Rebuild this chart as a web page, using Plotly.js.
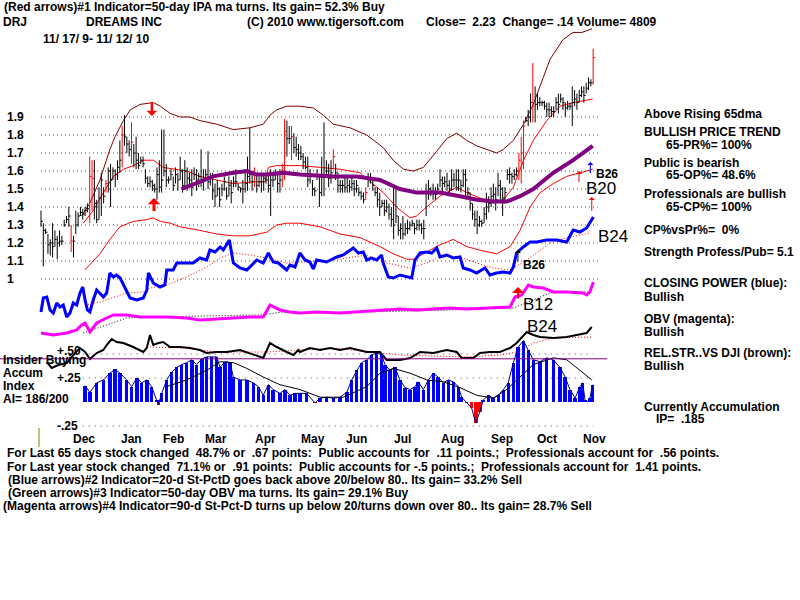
<!DOCTYPE html>
<html><head><meta charset="utf-8">
<script src="https://cdn.plot.ly/plotly-3.0.1.min.js"></script>
<style>html,body{margin:0;padding:0;background:#fff}</style>
</head><body><div id="chart" style="width:800px;height:600px"></div>
<script>
// ---------------- DATA ----------------
const high = [1.38,1.31,1.28,1.25,1.22,1.31,1.27,1.24,1.27,1.24,
1.33,1.35,1.40,1.30,1.24,1.38,1.37,1.40,1.39,1.40,
1.42,1.68,1.66,1.66,1.44,1.51,1.59,1.51,1.55,1.62,
1.64,1.62,1.61,1.66,1.77,1.85,1.91,1.79,1.77,1.87,
1.75,1.79,1.70,1.68,1.68,1.61,1.57,1.57,1.55,1.53,
1.62,1.66,1.83,1.83,1.64,1.57,1.61,1.57,1.62,1.59,
1.68,1.61,1.66,1.62,1.59,1.61,1.62,1.61,1.59,1.72,
1.61,1.61,1.71,1.59,1.59,1.53,1.55,1.51,1.53,1.57,
1.51,1.57,1.55,1.57,1.61,1.53,1.51,1.55,1.59,1.68,
1.84,1.59,1.62,1.59,1.57,1.59,1.59,1.57,1.59,1.61,
1.59,1.61,1.59,1.61,1.64,1.89,1.88,1.85,1.85,1.81,
1.79,1.75,1.74,1.70,1.68,1.68,1.61,1.55,1.51,1.61,
1.57,1.68,1.87,1.66,1.64,1.66,1.72,1.64,1.59,1.55,
1.55,1.57,1.57,1.55,1.57,1.55,1.55,1.51,1.49,1.48,
1.51,1.59,1.59,1.55,1.51,1.51,1.48,1.44,1.44,1.44,
1.42,1.40,1.51,1.51,1.35,1.31,1.35,1.31,1.33,1.32,
1.33,1.31,1.33,1.33,1.31,1.33,1.53,1.55,1.51,1.53,
1.51,1.53,1.61,1.57,1.57,1.59,1.55,1.61,1.59,1.61,
1.61,1.55,1.61,1.61,1.51,1.48,1.42,1.38,1.38,1.35,
1.33,1.40,1.48,1.46,1.51,1.53,1.51,1.59,1.55,1.51,
1.51,1.61,1.62,1.59,1.61,1.62,1.70,1.79,1.88,1.90,
1.94,2.03,2.20,2.07,2.03,2.01,1.99,1.99,1.98,1.98,
1.96,1.96,2.01,2.03,2.03,2.01,1.98,1.99,1.98,2.07,
2.05,2.03,2.05,2.07,2.07,2.09,2.12,2.11,2.28];
const low = [1.29,1.07,1.25,1.14,1.13,1.12,1.18,1.11,1.18,1.19,
1.29,1.31,1.29,1.15,1.12,1.25,1.29,1.35,1.33,1.35,
1.37,1.31,1.38,1.33,1.31,1.33,1.35,1.42,1.48,1.48,
1.40,1.55,1.51,1.55,1.59,1.62,1.74,1.70,1.68,1.64,
1.62,1.61,1.61,1.64,1.62,1.53,1.51,1.51,1.49,1.48,
1.44,1.48,1.48,1.57,1.51,1.53,1.55,1.49,1.53,1.49,
1.55,1.48,1.51,1.49,1.51,1.46,1.55,1.49,1.51,1.51,
1.49,1.55,1.50,1.52,1.44,1.40,1.46,1.40,1.46,1.49,
1.44,1.46,1.42,1.51,1.51,1.49,1.48,1.42,1.48,1.49,
1.53,1.49,1.51,1.48,1.51,1.48,1.49,1.53,1.48,1.35,
1.51,1.55,1.48,1.48,1.51,1.55,1.68,1.75,1.66,1.70,
1.68,1.66,1.66,1.61,1.61,1.51,1.53,1.46,1.46,1.55,
1.40,1.46,1.46,1.57,1.51,1.53,1.61,1.55,1.48,1.48,
1.48,1.48,1.48,1.48,1.49,1.46,1.48,1.46,1.44,1.42,
1.44,1.51,1.53,1.49,1.46,1.40,1.35,1.40,1.35,1.37,
1.33,1.29,1.22,1.31,1.24,1.22,1.22,1.24,1.25,1.27,
1.29,1.25,1.27,1.27,1.25,1.22,1.35,1.44,1.46,1.44,
1.44,1.48,1.51,1.48,1.51,1.49,1.46,1.49,1.51,1.49,
1.49,1.48,1.51,1.46,1.46,1.38,1.33,1.29,1.25,1.29,
1.29,1.31,1.33,1.37,1.40,1.42,1.38,1.46,1.44,1.35,
1.42,1.55,1.53,1.53,1.55,1.57,1.55,1.53,1.61,1.87,
1.85,1.87,1.87,1.87,1.94,1.96,1.96,1.94,1.90,1.90,
1.90,1.90,1.94,1.92,1.98,1.94,1.90,1.94,1.94,1.85,
1.96,1.94,1.98,2.01,1.98,2.03,2.05,2.07,2.08];
const close = [1.32,1.27,1.26,1.19,1.20,1.18,1.22,1.20,1.21,1.21,
1.30,1.33,1.35,1.21,1.21,1.30,1.35,1.37,1.36,1.38,
1.39,1.57,1.56,1.42,1.33,1.45,1.55,1.46,1.53,1.60,
1.55,1.60,1.58,1.62,1.66,1.80,1.79,1.75,1.72,1.76,
1.70,1.66,1.63,1.66,1.64,1.56,1.53,1.54,1.52,1.50,
1.58,1.51,1.55,1.60,1.55,1.55,1.58,1.52,1.58,1.55,
1.60,1.52,1.60,1.56,1.55,1.51,1.58,1.55,1.57,1.54,
1.55,1.58,1.54,1.56,1.49,1.46,1.50,1.44,1.50,1.54,
1.46,1.52,1.48,1.54,1.54,1.51,1.50,1.50,1.53,1.57,
1.58,1.54,1.58,1.52,1.54,1.54,1.56,1.55,1.52,1.55,
1.55,1.58,1.53,1.55,1.60,1.82,1.78,1.78,1.79,1.73,
1.72,1.70,1.68,1.65,1.62,1.55,1.57,1.50,1.49,1.58,
1.48,1.57,1.58,1.60,1.56,1.59,1.68,1.59,1.52,1.52,
1.52,1.51,1.52,1.51,1.53,1.50,1.52,1.48,1.46,1.44,
1.48,1.56,1.56,1.52,1.48,1.44,1.40,1.42,1.38,1.40,
1.36,1.33,1.30,1.35,1.27,1.28,1.25,1.28,1.28,1.30,
1.31,1.28,1.30,1.30,1.28,1.28,1.48,1.50,1.49,1.48,
1.47,1.50,1.55,1.53,1.54,1.52,1.50,1.55,1.55,1.55,
1.55,1.52,1.58,1.55,1.48,1.42,1.36,1.33,1.30,1.32,
1.31,1.36,1.40,1.42,1.46,1.47,1.44,1.52,1.50,1.45,
1.48,1.58,1.58,1.57,1.58,1.60,1.66,1.70,1.85,1.88,
1.90,1.98,1.96,1.97,1.98,1.98,1.98,1.96,1.94,1.94,
1.93,1.93,1.98,1.97,2.00,1.98,1.95,1.96,1.96,1.98,
2.00,1.98,2.02,2.04,2.02,2.06,2.09,2.09,2.23];
const redBars = [13,21,22,28,35,39,92,104,105,108,126,140,206,207,208,212,238];

const upperX = [17.5,21,25.4,29.7,31.9,35.5,38.5,42.7,48.4,51.4,55.7,60,64.3,68.5,75.7,82.9,90,95.8,98.7,101.6,105.9,111.6,117.4,121.7,126,133.2,140.4,147.5,151.8,156.2,160.5,164.8,170.6,174.9,179.2,183.5,187.8,192.1,196.4,199.3,203.6,208,212.2,216.5,219.4,225,229.3,233.2,237.5];
const upperY = [1.35,1.42,1.55,1.72,1.79,1.88,1.94,1.97,1.98,1.96,1.92,1.90,1.90,1.88,1.86,1.83,1.84,1.86,1.91,1.94,1.96,1.96,1.95,1.91,1.86,1.84,1.80,1.73,1.66,1.61,1.60,1.62,1.71,1.78,1.81,1.77,1.74,1.72,1.70,1.72,1.77,1.86,1.97,2.12,2.22,2.33,2.37,2.37,2.39];
const maX = [18.2,22.5,26.9,31.2,35.5,39.9,44.2,48.4,52.7,57,62.8,68.5,75.7,82.9,91.5,96.6,98,101.6,107.3,111.6,120.3,128.9,137.5,143.2,147.5,153.3,159,161.9,166.2,172,179.2,183.5,189.2,195,199.3,203.6,208,212.2,218,223.7,229.5,237.8];
const maY = [1.31,1.38,1.48,1.57,1.61,1.63,1.66,1.66,1.62,1.61,1.60,1.57,1.55,1.53,1.54,1.54,1.62,1.63,1.63,1.63,1.62,1.61,1.59,1.53,1.48,1.40,1.34,1.35,1.40,1.46,1.51,1.48,1.45,1.43,1.44,1.51,1.66,1.77,1.88,1.96,1.98,2.00];
const lowerX = [18.9,25.4,29.7,34,39.8,45.6,48.4,51.4,55.7,60,68.5,75.7,82.9,90,97.3,101.6,105.9,111.6,120.3,128.9,137.5,146.1,151.8,157.6,160.5,166.2,172,177.7,183.5,189.2,196.4,202.2,206.5,210.8,215.1,220.8,226.6,232.3,237.8];
const lowerY = [1.05,1.14,1.22,1.29,1.32,1.33,1.34,1.32,1.31,1.29,1.27,1.25,1.24,1.24,1.26,1.30,1.31,1.31,1.29,1.25,1.23,1.18,1.14,1.11,1.11,1.15,1.19,1.22,1.18,1.16,1.14,1.18,1.27,1.40,1.48,1.53,1.57,1.59,1.61];
const ma65X = [60.6,68.5,74.3,82.9,88.7,93,97.3,104.4,111.6,126,136.1,146.1,154.7,161.9,172,180.6,187.8,195,200.7,206.5,212.2,220.8,229.4,237.8];
const ma65Y = [1.50,1.54,1.57,1.59,1.60,1.58,1.58,1.59,1.58,1.57,1.57,1.55,1.50,1.48,1.48,1.46,1.44,1.43,1.43,1.46,1.50,1.59,1.66,1.74];

const cpX = [0,1,2.5,3.9,5.3,6.8,8.2,9.6,11.1,12.5,13.9,15.4,16.8,18,19,20,21.1,22.5,24,25.4,26.9,28.3,29.7,31.2,32.6,34.1,36.9,38.4,41.3,44.1,45.6,46.3,48.4,51.3,53.4,54.2,57,58.5,62.8,65.6,68.5,71.4,72.8,75,77.2,78.6,81.2,82.9,85.8,88.7,93,95.8,98,100.1,102.3,104.4,105.9,107.3,109.5,111.6,113.8,115.9,117.4,118.8,123.1,127.5,130.3,134.6,136.8,138.9,140.4,142.5,144.7,146.8,147.5,149.7,151.9,154.7,157.6,159.8,161.2,163.4,166.3,168.4,170.6,172,174.9,177.7,180.6,182,184.9,187.8,189.9,191.4,193.5,196.4,199.3,202.2,203.6,205,207.9,210.8,213.7,218,222.3,226.6,229.4,232.3,235.2,237.4,238.1];
const cpV = [8,22,23,10,7,17,13,15,3,7,17,15,27,33,20,10,8,20,30,27,23,27,47,43,45,42,30,22,20,22,30,47,37,33,35,50,50,57,57,57,62,60,70,68,73,70,80,57,52,50,60,57,67,58,57,53,50,55,53,67,60,58,51,60,58,63,65,72,67,68,60,62,60,65,57,43,42,45,43,42,60,67,68,67,72,63,65,62,63,52,50,47,50,52,45,47,48,47,53,67,73,78,78,80,80,78,90,88,92,100,103];
const cpMaX = [19,25.4,36.9,44.1,47,54.2,62.8,71.4,77.2,82.9,90.1,97.3,105.9,111.6,126,140.4,149,159.1,166.3,173.4,180.6,187.8,194.9,202.2,209.4,219.4,226.6,236.6];
const cpMaV = [15,18,27,28,32,35,43,53,62,67,65,62,57,58,60,65,57,52,57,65,63,57,52,50,60,77,82,87];

const obvX = [0,5.3,11.1,15.4,17.5,19,21.1,24,28.3,31.2,36.9,42.7,48.4,54.2,62.8,68.5,75.7,82.9,90.1,95.8,98.7,103,107.3,111.6,118.8,128.9,134.6,140.4,149,154.7,161.9,169.1,176.3,183.5,190.6,197.8,202.2,204.3,207.2,210.1,212.2,216.5,220.8,226.6,233.7,235.2,236.6,238.1];
const obvV = [7,5,7,10,15,17,8,17,22,25,25,23,23,23,22,20,21,22,23,23,35,30,28,27,28,27,28,29,30,31,30,31,32,31,32,33,33,43,45,55,53,52,48,48,47,45,48,58];
const obvMaX = [18.2,25.4,36.9,45.6,94.4,104.4,111.6,161.9,203.6,212.2,219.4,226.6,236.6];
const obvMaV = [7,13,22,23,25,28,27,29,32,40,47,48,48];

const rsX = [2.5,4.6,7.5,11.1,14.7,16.8,19,21.1,24,26.9,28.3,30.5,32.6,35.5,39.8,44.1,45.6,47,48.4,50.6,52.7,55.6,59.9,64.2,68.5,71.4,75.7,80,85.8,91.5,95.8,98.7,101.6,105.9,108.8,110.9,111.6,115.9,120.3,124.6,128.9,133.2,140.4,146.1,149,154.7,159.1,163.4,169.1,174.9,179.2,181.3,186.3,189.2,193.5,197.8,202.2,205,209.4,212.2,215.1,220.8,226.6,230.9,235.2,237.4];
const rsV = [8,2,5,7,17,22,18,11,17,20,25,31,28,27,23,18,22,35,25,27,28,23,23,22,20,17,18,18,20,15,12,27,23,18,15,20,18,22,20,22,20,22,18,18,10,10,12,18,17,20,18,12,12,17,18,18,22,27,38,35,33,32,33,35,37,43];
const rsMaX = [47,61.3,75.7,97.3,111.6,126,154.7,183.5,197.8,205,212.2,220.8,237.8];
const rsMaV = [23,22,18,18,20,22,15,13,15,18,27,32,33];

const aiX = [19,21.1,24,26.9,29.7,31.9,34.1,36.9,39.1,41.3,43.4,45.6,47.7,49.9,50.6,52,54.2,56.3,58.5,60.6,62.8,65,67.1,69.3,71.4,73.6,75.7,77.2,79.3,81.5,82.9,85.8,88.7,91.5,93.7,95.8,98,100.1,103,105.2,107.3,109.5,111.6,114.5,118.1,120.3,123.1,126,128.9,131.8,133.9,136.1,138.2,140.4,142.5,144.7,146.8,148.3,150.4,152.6,154.7,156.9,159.1,161.2,162.6,164.8,167,169.1,171.2,173.4,175.6,177.7,179.9,181.3,183.5,185.6,187.4,189.2,190.6,192.8,194.9,197.1,199.3,201.4,203.6,205.7,207.9,210.1,212.2,215.1,218,220.8,223.7,225.9,228,230.2,232.3,233.5,234.5,235.5,236.6,237.8];
const aiV = [0.17,0.10,0.20,0.23,0.30,0.34,0.30,0.23,0.16,0.25,0.20,0.23,0.16,0.02,-0.03,0.09,0.23,0.31,0.36,0.39,0.41,0.44,0.39,0.45,0.47,0.47,0.47,0.36,0.42,0.41,0.26,0.23,0.23,0.20,0.16,0.07,0.18,0.13,0.09,0.13,0.07,0.09,0.09,0.09,-0.01,0.04,0.05,0.04,0.05,0.10,0.23,0.33,0.41,0.44,0.49,0.51,0.49,0.39,0.33,0.36,0.23,0.15,0.13,0.16,0.21,0.13,0.23,0.30,0.26,0.20,0.23,0.21,0.16,0.05,-0.01,-0.06,-0.22,-0.10,0.02,0.07,0.04,0.07,0.13,0.20,0.41,0.57,0.64,0.54,0.44,0.42,0.46,0.44,0.36,0.26,0.13,0.04,0.16,0.20,0.02,0.00,0.04,0.18];
const aiMaX = [54.2,62.8,71.4,77.2,82.9,88.7,95.8,103,111.6,120.3,130.3,140.4,146.1,151.9,159.1,166.3,173.4,180.6,187.8,194.9,200.7,206.5,212.2,220.8,226.6,232.3,237.4];
const aiMaV = [0.16,0.23,0.33,0.42,0.41,0.35,0.26,0.18,0.13,0.05,0.05,0.16,0.30,0.35,0.30,0.23,0.21,0.15,0.07,0.04,0.13,0.26,0.39,0.46,0.44,0.33,0.23];
const aiLevels = [0.50, 0.25, -0.25];
const aiLevelLabels = ['+.50', '+.25', '-.25'];
const insiderLevel = 0.45;

const priceGrid = [1,1.1,1.2,1.3,1.4,1.5,1.6,1.7,1.8,1.9];
const priceLabels = ['1','1.1','1.2','1.3','1.4','1.5','1.6','1.7','1.8','1.9'];
const months = ['Dec','Jan','Feb','Mar','Apr','May','Jun','Jul','Aug','Sep','Oct','Nov'];
const monthPos = [18.5,38.8,56.9,75.4,96.6,117.2,136.2,156,177.2,198.7,218.1,238.4];

// signal arrows: [x, tip, tail, axis, color, width]
const signals = [
  [47.8, 1.905, 1.99, 'y', '#ff0000', 2.5],
  [48.7, 1.45, 1.37, 'y', '#ff0000', 3],
  [231.9, 1.60, 1.53, 'y', '#ff0000', 1],
  [236.8, 1.65, 1.58, 'y', '#0000ff', 1],
  [237.4, 1.455, 1.37, 'y', '#ff0000', 1],
  [205.6, 70, 57, 'y2', '#000000', 1],
  [205.6, 53, 40, 'y3', '#ff0000', 2]
];

// ---------------- DRAWING ----------------
const FONT = 'Liberation Sans, Arial, sans-serif';
const idx = high.map((_, i) => i);
function barSegs(list) {
  const x = [], y = [];
  list.forEach(i => { x.push(i, i, null); y.push(low[i], high[i], null); });
  return {x, y};
}
function tickSegs(list) {
  const x = [], y = [];
  list.forEach(i => { x.push(i, i + 0.8, null); y.push(close[i], close[i], null); });
  return {x, y};
}
const blackList = idx.filter(i => !redBars.includes(i));
const bb = barSegs(blackList), rb = barSegs(redBars);
const bt = tickSegs(blackList), rt = tickSegs(redBars);

const gx = [], gy = [];
priceGrid.forEach(g => { gx.push(0, 240, null); gy.push(g, g, null); });

const traces = [];
traces.push({x: gx, y: gy, mode: 'lines', line: {color: '#008000', width: 1, dash: '1px,3px'}});
traces.push({x: upperX, y: upperY, mode: 'lines', line: {color: '#800000', width: 1}});
traces.push({x: lowerX, y: lowerY, mode: 'lines', line: {color: '#ff0000', width: 1}});
traces.push({x: maX, y: maY, mode: 'lines', line: {color: '#ff0000', width: 1}});
traces.push({x: bb.x, y: bb.y, mode: 'lines', line: {color: '#000000', width: 1}});
traces.push({x: bt.x, y: bt.y, mode: 'lines', line: {color: '#000000', width: 1}});
traces.push({x: rb.x, y: rb.y, mode: 'lines', line: {color: '#ff0000', width: 1}});
traces.push({x: rt.x, y: rt.y, mode: 'lines', line: {color: '#ff0000', width: 1}});
traces.push({x: ma65X, y: ma65Y, mode: 'lines', line: {color: '#800080', width: 4}});
// closing power
traces.push({x: cpMaX, y: cpMaV, yaxis: 'y2', mode: 'lines', line: {color: '#ff0000', width: 1, dash: '1px,2px'}});
traces.push({x: cpX, y: cpV, yaxis: 'y2', mode: 'lines', line: {color: '#0000ff', width: 3}});
// OBV
traces.push({x: obvMaX, y: obvMaV, yaxis: 'y3', mode: 'lines', line: {color: '#000000', width: 1, dash: '1px,2px'}});
traces.push({x: obvX, y: obvV, yaxis: 'y3', mode: 'lines', line: {color: '#ff00ff', width: 3}});
// Rel strength
traces.push({x: rsMaX, y: rsMaV, yaxis: 'y4', mode: 'lines', line: {color: '#ff0000', width: 1, dash: '1px,2px'}});
traces.push({x: rsX, y: rsV, yaxis: 'y4', mode: 'lines', line: {color: '#000000', width: 2}});
// AI
traces.push({x: [18, 238], y: [aiLevels[0], aiLevels[0]], yaxis: 'y5', mode: 'lines', line: {color: '#c000c0', width: 1, dash: '1px,5px'}});
traces.push({x: [18, 238], y: [aiLevels[1], aiLevels[1]], yaxis: 'y5', mode: 'lines', line: {color: '#606060', width: 1, dash: '1px,5px'}});
traces.push({x: [18, 238], y: [aiLevels[2], aiLevels[2]], yaxis: 'y5', mode: 'lines', line: {color: '#c000c0', width: 1, dash: '1px,5px'}});
traces.push({x: aiX, y: aiV, yaxis: 'y5', type: 'bar', width: 1.5,
  marker: {color: aiV.map(v => v < 0 ? '#ff0000' : '#0000ff'), line: {width: 0}}});
traces.push({x: aiX, y: aiV, yaxis: 'y5', mode: 'lines', line: {color: '#000080', width: 1}});
traces.push({x: aiMaX, y: aiMaV, yaxis: 'y5', mode: 'lines', line: {color: '#000000', width: 1}});
traces.push({x: [-17.67, 244], y: [insiderLevel, insiderLevel], yaxis: 'y5', mode: 'lines', line: {color: '#800080', width: 1}});

traces.forEach(t => { if (!t.type) t.type = 'scatter'; t.hoverinfo = 'skip'; t.showlegend = false; t.cliponaxis = false; });

// ---------------- TEXT ----------------
const ann = [];
function sp(t) { return t.replace(/  /g, ' \u00a0'); }
function lab(px, py, text, size, bold, extra) {
  const a = {xref: 'paper', yref: 'paper', x: px / 800, y: 1 - py / 600, xanchor: 'left', yanchor: 'middle',
    text: bold === false ? sp(text) : '<b>' + sp(text) + '</b>', showarrow: false, borderpad: 0,
    font: {family: FONT, size: size, color: '#000000'}};
  return Object.assign(a, extra || {});
}
const T = 12;
ann.push(lab(3, 7, '(Red arrows)#1 Indicator=50-day IPA ma turns. Its gain= 52.3% Buy', T));
ann.push(lab(2, 22, 'DRJ', T));
ann.push(lab(85, 22, 'DREAMS INC', T));
ann.push(lab(246, 22, '(C) 2010 www.tigersoft.com', T));
ann.push(lab(425, 22, 'Close=  2.23  Change= .14 Volume= 4809', T));
ann.push(lab(42, 39, '11/ 17/ 9- 11/ 12/ 10', T));

const right = [
  [643,114,'Above Rising 65dma'],[643,132,'BULLISH PRICE TREND'],[665,145,'65-PR%= 100%'],
  [643,163,'Public is bearish'],[665,175,'65-OP%= 48.6%'],[643,194,'Professionals are bullish'],
  [665,207,'65-CP%= 100%'],[643,230,'CP%vsPr%=  0%'],[643,252,'Strength Profess/Pub= 5.1'],
  [643,283,'CLOSING POWER (blue):'],[643,297,'Bullish'],[643,319,'OBV (magenta):'],[643,332,'Bullish'],
  [643,353,'REL.STR..VS DJI (brown):'],[643,366,'Bullish'],[643,407,'Currently Accumulation'],[655,419,'IP=  .185']
];
right.forEach(r => ann.push(lab(r[0], r[1], r[2], T)));

ann.push(lab(2, 360, 'Insider Buying', T));
ann.push(lab(2, 373, 'Accum', T));
ann.push(lab(2, 386, 'Index', T));
ann.push(lab(2, 399, 'AI= 186/200', T));

aiLevels.forEach((v, k) => ann.push({xref: 'paper', yref: 'y5', x: 56 / 800, y: v, xanchor: 'left', yanchor: 'middle', yshift: k === 0 ? 3 : 0,
  text: '<b>' + aiLevelLabels[k] + '</b>', showarrow: false, borderpad: 0, font: {family: FONT, size: T, color: '#000'}}));

priceGrid.forEach((g, k) => ann.push({xref: 'paper', yref: 'y', x: 6 / 800, y: g, xanchor: 'left', yanchor: 'middle',
  text: '<b>' + priceLabels[k] + '</b>', showarrow: false, borderpad: 0, font: {family: FONT, size: 12, color: '#000'}}));

months.forEach((m, k) => ann.push({xref: 'x', yref: 'paper', x: monthPos[k], y: 1 - 439 / 600, xanchor: 'center', yanchor: 'middle',
  text: '<b>' + m + '</b>', showarrow: false, borderpad: 0, font: {family: FONT, size: 12, color: '#000'}}));

const big = {family: 'Liberation Sans, Arial, sans-serif', size: 17, color: '#000'};
ann.push(lab(585, 188, 'B20', 17, false, {font: big}));
ann.push(lab(597, 236, 'B24', 17, false, {font: big}));
ann.push(lab(522, 304, 'B12', 17, false, {font: big}));
ann.push(lab(526, 326, 'B24', 17, false, {font: big}));
ann.push(lab(595, 174, 'B26', T));
ann.push(lab(522, 265, 'B26', T));

ann.push(lab(6, 453, 'For Last 65 days stock changed  48.7% or  .67 points:  Public accounts for  .11 points.;  Professionals account for  .56 points.', T));
ann.push(lab(6, 467, 'For Last year stock changed  71.1% or  .91 points:  Public accounts for -.5 points.;  Professionals account for  1.41 points.', T));
ann.push(lab(7, 480, '(Blue arrows)#2 Indicator=20-d St-PctD goes back above 20/below 80.. Its gain= 33.2% Sell', T));
ann.push(lab(7, 493, '(Green arrows)#3 Indicator=50-day OBV ma turns. Its gain= 29.1% Buy', T));
ann.push(lab(2, 506, '(Magenta arrows)#4 Indicator=90-d St-Pct-D turns up below 20/turns down over 80.. Its gain= 28.7% Sell', T));

signals.forEach(s => ann.push({x: s[0], y: s[1], ax: s[0], ay: s[2], xref: 'x', yref: s[3], axref: 'x', ayref: s[3],
  showarrow: true, text: '', arrowhead: 1, arrowsize: s[5] > 2 ? 0.7 : 1, arrowwidth: s[5], arrowcolor: s[4]}));

const hidden = {visible: false, fixedrange: true, domain: [0, 1]};
const layout = {
  width: 800, height: 600, margin: {l: 0, r: 0, t: 0, b: 0, pad: 0},
  paper_bgcolor: '#ffffff', plot_bgcolor: 'rgba(0,0,0,0)', showlegend: false, bargap: 0,
  xaxis: Object.assign({range: [-17.67, 327.16]}, hidden),
  yaxis: Object.assign({range: [-0.78333, 2.55]}, hidden),
  yaxis2: Object.assign({range: [-280, 320], overlaying: 'y'}, hidden),
  yaxis3: Object.assign({range: [-260, 340], overlaying: 'y'}, hidden),
  yaxis4: Object.assign({range: [-230, 370], overlaying: 'y'}, hidden),
  yaxis5: Object.assign({range: [-2.0625, 4.1875], overlaying: 'y'}, hidden),
  annotations: ann,
  shapes: [{type: 'line', xref: 'paper', yref: 'paper', x0: 39 / 800, x1: 39 / 800, y0: 1 - 428 / 600, y1: 1 - 447 / 600, line: {color: '#808000', width: 1}}]
};
Plotly.newPlot('chart', traces, layout, {staticPlot: true, displayModeBar: false});
</script></body></html>
